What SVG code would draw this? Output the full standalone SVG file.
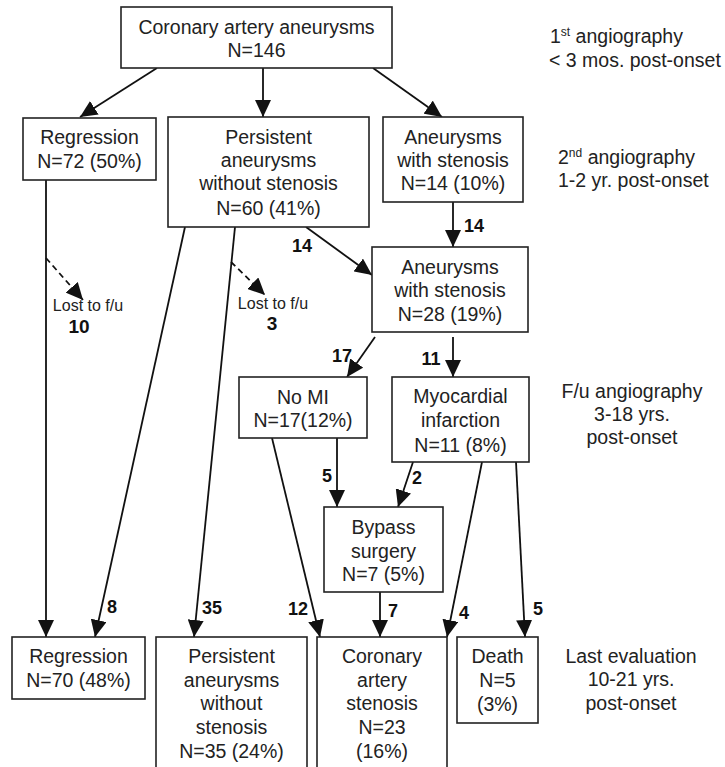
<svg xmlns="http://www.w3.org/2000/svg" width="725" height="767" viewBox="0 0 725 767">
<defs>
<style>
.box{fill:#fff;stroke:#222;stroke-width:1.6}
.t{font-family:"Liberation Sans",Arial,sans-serif;font-size:19.5px;fill:#222;text-anchor:middle}
.side{font-family:"Liberation Sans",Arial,sans-serif;font-size:19.5px;fill:#222}
.sup{font-size:12px}
.num{font-family:"Liberation Sans",Arial,sans-serif;font-size:18px;font-weight:bold;fill:#111;text-anchor:middle}
.lost{font-family:"Liberation Sans",Arial,sans-serif;font-size:16px;fill:#222;text-anchor:middle}
.c{fill:none;stroke:#111;stroke-width:1.8}
.d{fill:none;stroke:#111;stroke-width:1.8;stroke-dasharray:6 4}
</style>
<marker id="ah" markerUnits="userSpaceOnUse" markerWidth="17" markerHeight="16" refX="17" refY="8" orient="auto">
<path d="M0,0 L17,8 L0,16 Z" fill="#111"/>
</marker>
</defs>
<rect width="725" height="767" fill="#fff"/>

<g id="connectors">
<line class="c" x1="157" y1="68" x2="80" y2="117" marker-end="url(#ah)"/>
<line class="c" x1="263" y1="68" x2="263" y2="117" marker-end="url(#ah)"/>
<line class="c" x1="373" y1="68" x2="442" y2="117" marker-end="url(#ah)"/>
<line class="c" x1="46" y1="180" x2="46" y2="637" marker-end="url(#ah)"/>
<line class="c" x1="185" y1="227" x2="95" y2="637" marker-end="url(#ah)"/>
<line class="c" x1="235" y1="227" x2="194" y2="637" marker-end="url(#ah)"/>
<line class="c" x1="306" y1="227" x2="372" y2="275" marker-end="url(#ah)"/>
<line class="c" x1="453" y1="202" x2="453" y2="247" marker-end="url(#ah)"/>
<line class="d" x1="46" y1="258" x2="83" y2="300" marker-end="url(#ah)"/>
<line class="d" x1="231" y1="262" x2="265" y2="295" marker-end="url(#ah)"/>
<line class="c" x1="375" y1="337" x2="347" y2="377" marker-end="url(#ah)"/>
<line class="c" x1="453" y1="337" x2="453" y2="377" marker-end="url(#ah)"/>
<line class="c" x1="272" y1="438" x2="320" y2="637" marker-end="url(#ah)"/>
<line class="c" x1="337" y1="438" x2="337" y2="507" marker-end="url(#ah)"/>
<line class="c" x1="413" y1="462" x2="398" y2="507" marker-end="url(#ah)"/>
<line class="c" x1="380" y1="592" x2="380" y2="637" marker-end="url(#ah)"/>
<line class="c" x1="482" y1="462" x2="447" y2="637" marker-end="url(#ah)"/>
<line class="c" x1="516" y1="462" x2="525" y2="637" marker-end="url(#ah)"/>
<text class="num" x="302" y="252">14</text>
<text class="num" x="474" y="232">14</text>
<text class="lost" x="88" y="311">Lost to f/u</text>
<text class="num" x="79" y="333" style="font-size:19px">10</text>
<text class="lost" x="273" y="309">Lost to f/u</text>
<text class="num" x="272" y="330" style="font-size:19px">3</text>
<text class="num" x="342" y="362">17</text>
<text class="num" x="431" y="365">11</text>
<text class="num" x="327" y="482">5</text>
<text class="num" x="417" y="484">2</text>
<text class="num" x="112" y="613">8</text>
<text class="num" x="212" y="614">35</text>
<text class="num" x="298" y="615">12</text>
<text class="num" x="393" y="617">7</text>
<text class="num" x="464" y="619">4</text>
<text class="num" x="538" y="615">5</text>
</g>

<g id="n-root">
<rect class="box" x="121" y="7" width="271" height="61"/>
<text class="t" x="256.5" y="34">Coronary artery aneurysms</text>
<text class="t" x="256.5" y="57">N=146</text>
</g>
<g id="n-regression1">
<rect class="box" x="23" y="118" width="133" height="62"/>
<text class="t" x="89.5" y="144">Regression</text>
<text class="t" x="89.5" y="168">N=72 (50%)</text>
</g>
<g id="n-persistent1">
<rect class="box" x="168" y="117" width="201" height="110"/>
<text class="t" x="268.5" y="144">Persistent</text>
<text class="t" x="268.5" y="167">aneurysms</text>
<text class="t" x="268.5" y="190">without stenosis</text>
<text class="t" x="268.5" y="215">N=60 (41%)</text>
</g>
<g id="n-stenosis1">
<rect class="box" x="383" y="117" width="140" height="85"/>
<text class="t" x="453" y="144">Aneurysms</text>
<text class="t" x="453" y="167">with stenosis</text>
<text class="t" x="453" y="190">N=14 (10%)</text>
</g>
<g id="n-stenosis2">
<rect class="box" x="372" y="247" width="156" height="85"/>
<text class="t" x="450" y="274">Aneurysms</text>
<text class="t" x="450" y="297">with stenosis</text>
<text class="t" x="450" y="321">N=28 (19%)</text>
</g>
<g id="n-nomi">
<rect class="box" x="239" y="377" width="128" height="61"/>
<text class="t" x="303" y="404">No MI</text>
<text class="t" x="303" y="427">N=17(12%)</text>
</g>
<g id="n-mi">
<rect class="box" x="392" y="377" width="137" height="85"/>
<text class="t" x="460.5" y="403">Myocardial</text>
<text class="t" x="460.5" y="427">infarction</text>
<text class="t" x="460.5" y="452">N=11 (8%)</text>
</g>
<g id="n-bypass">
<rect class="box" x="324" y="507" width="119" height="85"/>
<text class="t" x="383.5" y="534">Bypass</text>
<text class="t" x="383.5" y="558">surgery</text>
<text class="t" x="383.5" y="581">N=7 (5%)</text>
</g>
<g id="n-regression2">
<rect class="box" x="12" y="637" width="133" height="62"/>
<text class="t" x="78.5" y="663">Regression</text>
<text class="t" x="78.5" y="687">N=70 (48%)</text>
</g>
<g id="n-persistent2">
<rect class="box" x="156" y="637" width="151" height="145"/>
<text class="t" x="231.5" y="663">Persistent</text>
<text class="t" x="231.5" y="687">aneurysms</text>
<text class="t" x="231.5" y="710">without</text>
<text class="t" x="231.5" y="734">stenosis</text>
<text class="t" x="231.5" y="758">N=35 (24%)</text>
</g>
<g id="n-coronary">
<rect class="box" x="317" y="637" width="130" height="145"/>
<text class="t" x="382" y="663">Coronary</text>
<text class="t" x="382" y="687">artery</text>
<text class="t" x="382" y="710">stenosis</text>
<text class="t" x="382" y="734">N=23</text>
<text class="t" x="382" y="758">(16%)</text>
</g>
<g id="n-death">
<rect class="box" x="457" y="637" width="81" height="86"/>
<text class="t" x="497.5" y="663">Death</text>
<text class="t" x="497.5" y="687">N=5</text>
<text class="t" x="497.5" y="711">(3%)</text>
</g>

<g id="side-labels">
<text class="side" x="550" y="43">1<tspan class="sup" dy="-7">st</tspan><tspan dy="7"> angiography</tspan></text>
<text class="side" x="549" y="67">&lt; 3 mos. post-onset</text>
<text class="side" x="558" y="164">2<tspan class="sup" dy="-7">nd</tspan><tspan dy="7"> angiography</tspan></text>
<text class="side" x="558" y="187">1-2 yr. post-onset</text>
<text class="t" x="632" y="398">F/u angiography</text>
<text class="t" x="632" y="421">3-18 yrs.</text>
<text class="t" x="632" y="444">post-onset</text>
<text class="t" x="631" y="663">Last evaluation</text>
<text class="t" x="631" y="686">10-21 yrs.</text>
<text class="t" x="631" y="710">post-onset</text>
</g>
</svg>
